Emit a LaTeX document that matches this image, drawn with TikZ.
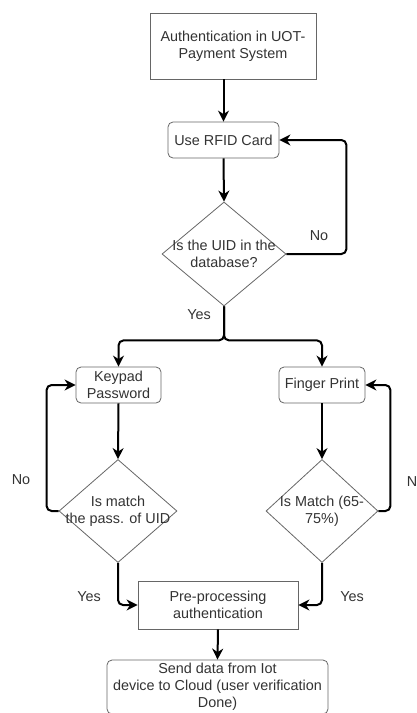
\documentclass[tikz,border=0pt]{standalone}
\usepackage{fontspec}
\setmainfont{Liberation Sans}
\usetikzlibrary{shapes.geometric,arrows.meta}
\begin{document}
\begin{tikzpicture}[x=1pt,y=-1pt,
  txt/.style={text=black!80, align=center, font=\fontsize{14.4pt}{17pt}\selectfont},
  box/.style={txt, draw=black!60, line width=0.8pt, fill=white, inner sep=0pt},
  rbox/.style={box, rounded corners=5pt},
  dia/.style={diamond, draw=black!60, line width=0.8pt, fill=white, inner sep=0pt},
  arr/.style={line width=2pt, draw=black, rounded corners=5pt, -{Stealth[length=11pt,width=11pt,inset=3.5pt]}},
  lab/.style={txt, inner sep=0pt}]
\useasboundingbox (0,0) rectangle (416,713);

\node[box, minimum width=166pt, minimum height=66pt] (auth) at (233,46) {Authentication in UOT-\\Payment System};
\node[rbox, minimum width=111pt, minimum height=36pt] (rfid) at (223.5,140) {Use RFID Card};
\node[dia, minimum width=124pt, minimum height=104pt] (d1) at (224,254) {};
\node[lab] (d1t) at (224,254) {Is the UID in the\\database?};
\node[rbox, minimum width=85pt, minimum height=36pt] (keypad) at (118.5,385) {Keypad\\Password};
\node[rbox, minimum width=86pt, minimum height=36pt] (finger) at (322,385) {Finger Print};
\node[dia, minimum width=118pt, minimum height=103pt] (d2) at (118,511) {};
\node[lab] (d2t) at (118,511) {Is match\\the pass. of UID};
\node[dia, minimum width=112pt, minimum height=103pt] (d3) at (322,511) {};
\node[lab] (d3t) at (322,511) {Is Match (65-\\75\%)};
\node[box, minimum width=160pt, minimum height=48pt] (pre) at (218,605) {Pre-processing\\authentication};
\node[rbox, minimum width=221pt, minimum height=54pt] (send) at (217.5,687) {Send data from Iot\\device to Cloud (user verification\\Done)};

\draw[arr] (auth.south -| rfid.north) -- (rfid.north);
\draw[arr] (rfid.south) -- (d1.north);
\draw[arr] (d1.east) -- ++(60,0) |- (rfid.east);
\draw[arr] (d1.south) -- ++(0,34) -| (keypad.north);
\draw[arr] (d1.south) -- ++(0,34) -| (finger.north);
\draw[arr] (keypad.south) -- (d2.north);
\draw[arr] (finger.south) -- (d3.north);
\draw[arr] (d2.west) -- ++(-12,0) |- (keypad.west);
\draw[arr] (d3.east) -- ++(12,0) |- (finger.east);
\draw[arr] (d2.south) |- (pre.west);
\draw[arr] (d3.south) |- (pre.east);
\draw[arr] (pre.south) -- (send.north);

\node[lab] (no1) at (319,236) {No};
\node[lab] (yes1) at (199,315) {Yes};
\node[lab] (no2) at (21,480) {No};
\node[lab] (no3) at (416,482) {No};
\node[lab] (yes2) at (89,597) {Yes};
\node[lab] (yes3) at (352,597) {Yes};
\end{tikzpicture}
\end{document}
